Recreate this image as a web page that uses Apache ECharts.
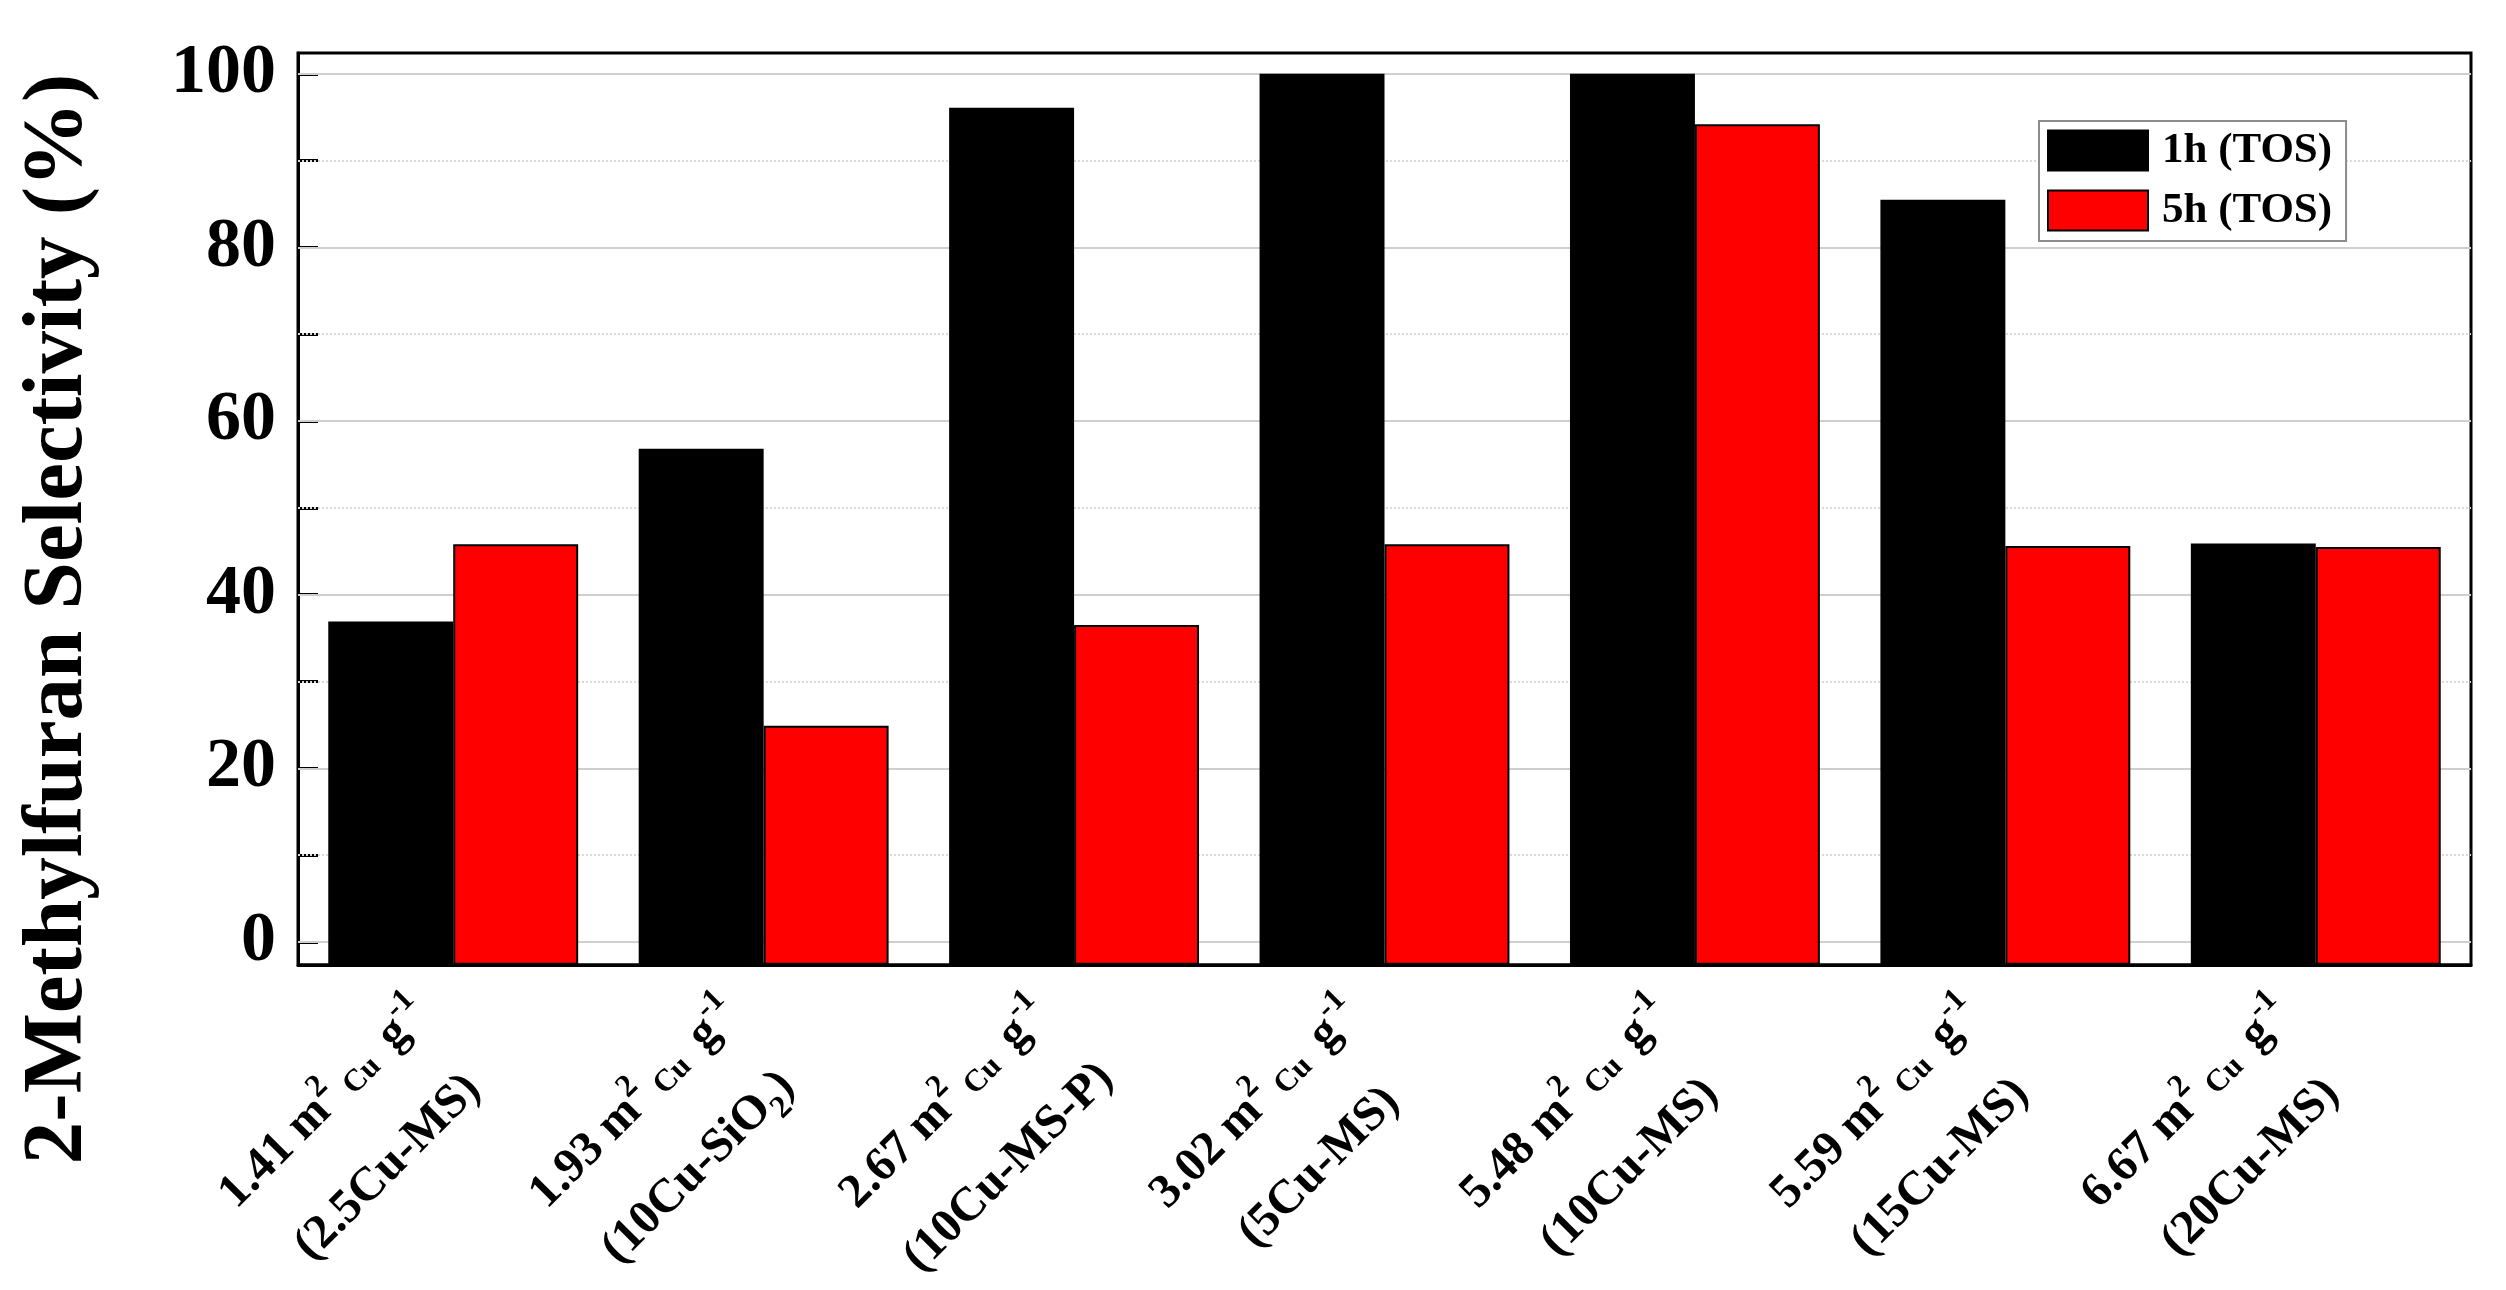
<!DOCTYPE html>
<html>
<head>
<meta charset="utf-8">
<script src="https://cdn.jsdelivr.net/npm/echarts@6/dist/echarts.min.js"></script>
<style>
html, body { margin: 0; padding: 0; background: #fff; }
#chart { width: 2506px; height: 1290px; }
</style>
</head>
<body>
<div id="chart"></div>
<script>
// Cu surface area (m2 Cu g-1) and sample name per category
var areas = ['1.41', '1.93', '2.67', '3.02', '5.48', '5.59', '6.67'];
var samples = ['2.5Cu-MS', '10Cu-SiO2', '10Cu-MS-P', '5Cu-MS', '10Cu-MS', '15Cu-MS', '20Cu-MS'];
// 2-MF selectivity (%)
var tos1h = [36.9, 56.8, 96.1, 100, 100, 85.5, 45.9];
var tos5h = [45.8, 24.9, 36.5, 45.8, 94.2, 45.6, 45.5];
var seriesNames = ['1h (TOS)', '5h (TOS)'];
var majorTicks = [0, 20, 40, 60, 80, 100];
var minorTicks = [10, 30, 50, 70, 90];
var allTicks = [0, 10, 20, 30, 40, 50, 60, 70, 80, 90, 100];

var FONT = 'Liberation Serif';
var chart = echarts.init(document.getElementById('chart'));

// 横轴标签: 两行, 带上下标
function xLabel(value, index) {
    var s = samples[index].replace(/O2$/, 'O}{sb|2}{n|');
    return '{n|' + areas[index] + ' m}{sup|2}{cu|Cu}{n| g}{sup|-1}\n{n|(' + s + ')}';
}

// 网格线: 主刻度实线, 次刻度点线
var gridLines = majorTicks.map(function (v) {
    return { yAxis: v, lineStyle: { color: '#cfcfcf', width: 2, type: 'solid' } };
}).concat(minorTicks.map(function (v) {
    return { yAxis: v, lineStyle: { color: '#d9d9d9', width: 2, type: 'dotted' } };
}));

var option = {
    backgroundColor: '#fff',
    animation: false,
    textStyle: { fontFamily: FONT, color: '#000' },
    color: ['#000000', '#ff0000'],
    grid: {
        left: 298,
        right: 35,
        top: 53,
        bottom: 323,
        show: true,
        borderColor: '#000',
        borderWidth: 3,
        backgroundColor: 'transparent'
    },
    legend: {
        orient: 'vertical',
        left: 2039,
        top: 121,
        padding: [8, 14, 9, 8],
        itemWidth: 100,
        itemHeight: 40,
        itemGap: 17,
        borderColor: '#8c8c8c',
        borderWidth: 2,
        backgroundColor: '#fff',
        icon: 'rect',
        textStyle: {
            fontFamily: FONT,
            fontWeight: 'bold',
            fontSize: 43,
            color: '#000',
            padding: [0, 0, 0, 9]
        },
        data: seriesNames
    },
    xAxis: {
        type: 'category',
        data: areas,
        axisLine: { onZero: false, lineStyle: { color: '#000', width: 3 } },
        axisTick: { show: false },
        splitLine: { show: false },
        axisLabel: {
            interval: 0,
            rotate: 45,
            margin: 74,
            formatter: xLabel,
            rich: {
                n: { fontFamily: FONT, fontWeight: 'bold', fontSize: 48, lineHeight: 90, color: '#000', align: 'center' },
                sup: { fontFamily: FONT, fontWeight: 'bold', fontSize: 32, padding: [0, 0, 34, 0], color: '#000', align: 'center' },
                cu: { fontFamily: FONT, fontWeight: 'bold', fontSize: 31, padding: [14, 8, 0, 12], color: '#000', align: 'center' },
                sb: { fontFamily: FONT, fontWeight: 'bold', fontSize: 32, padding: [34, 0, 0, 0], color: '#000', align: 'center' }
            }
        }
    },
    yAxis: {
        type: 'value',
        min: -2.64,
        max: 102.4,
        startValue: -2.64,
        name: '2-Methylfuran Selectivity (%)',
        nameLocation: 'middle',
        nameGap: 196,
        nameTextStyle: {
            fontFamily: FONT,
            fontWeight: 'bold',
            fontSize: 85,
            color: '#000',
            padding: [0, 220, 0, 0]
        },
        axisLine: { show: true, lineStyle: { color: '#000', width: 3 } },
        axisTick: {
            show: true,
            inside: true,
            length: 20,
            lineStyle: { color: '#000', width: 3 },
            customValues: allTicks
        },
        axisLabel: {
            margin: 22,
            fontFamily: FONT,
            fontWeight: 'bold',
            fontSize: 70,
            color: '#000',
            customValues: majorTicks
        },
        splitLine: { show: false }
    },
    series: [{
        name: seriesNames[0],
        type: 'bar',
        data: tos1h,
        barGap: '0%',
        barCategoryGap: '19.5%',
        z: 2,
        itemStyle: { color: '#000000', borderColor: '#000', borderWidth: 2 },
        markLine: {
            silent: true,
            symbol: 'none',
            z: 1,
            label: { show: false },
            data: gridLines
        }
    }, {
        name: seriesNames[1],
        type: 'bar',
        data: tos5h,
        barGap: '0%',
        barCategoryGap: '19.5%',
        z: 2,
        itemStyle: { color: '#ff0000', borderColor: '#000', borderWidth: 2 }
    }]
};
chart.setOption(option);
</script>
</body>
</html>
